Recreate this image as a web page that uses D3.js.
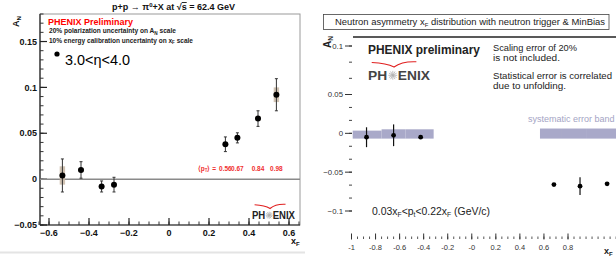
<!DOCTYPE html>
<html><head><meta charset="utf-8">
<script src="https://cdn.jsdelivr.net/npm/d3@7/dist/d3.min.js"></script>
<style>
html,body{margin:0;padding:0;background:#fff;}
svg{display:block;font-family:"Liberation Sans",Arial,sans-serif;}
</style></head>
<body>
<svg id="c" width="616" height="256"></svg>
<script>
// ---------- Left panel data (pi0 A_N vs xF) ----------
const leftX   = [-0.533, -0.44, -0.337, -0.275, 0.282, 0.342, 0.445, 0.537];
const leftY   = [0.004, 0.010, -0.008, -0.006, 0.038, 0.045, 0.066, 0.092];
const leftErr = [0.018, 0.009, 0.006, 0.008, 0.008, 0.0055, 0.0085, 0.0175];
const leftSys = [0.010, 0.002, 0.001, 0.001, 0.001, 0.001, 0.002, 0.008];
const leftXTicks = [-0.6, -0.4, -0.2, 0, 0.2, 0.4, 0.6];
const leftYTicks = [-0.05, 0, 0.05, 0.1, 0.15];
const ptLabels = ["0.56", "0.67", "0.84", "0.98"];

// ---------- Right panel data (neutron A_N vs xF) ----------
const rightX   = [-0.875, -0.65, -0.425, 0.683, 0.9, 1.125];
const rightY   = [-0.005, -0.0025, -0.005, -0.066, -0.068, -0.065];
const rightErr = [0.0128, 0.014, 0.0, 0.0, 0.0115, 0.0];
const bandX0   = [-0.99, -0.75, -0.55, 0.567, 0.75, 0.95];
const bandX1   = [-0.75, -0.55, -0.317, 0.75, 0.95, 1.2];
const bandLo   = [-0.0068, -0.0068, -0.0068, -0.0068, -0.0068, -0.0068];
const bandHi   = [0.0035, 0.0052, 0.0052, 0.0062, 0.0062, 0.0062];
const rightXTicks = [-1, -0.8, -0.6, -0.4, -0.2, 0, 0.2, 0.4, 0.6, 0.8];
const rightXLabels = ["-1", "-0.8", "-0.6", "-0.4", "-0.2", "-0", "0.2", "0.4", "0.6", "0.8"];
const rightYTicks = [-0.1, -0.05, 0, 0.05, 0.1];

const svg = d3.select("#c");
svg.append("rect").attr("width",616).attr("height",256).attr("fill","#fff");

// ================= LEFT PANEL =================
const xL = d3.scaleLinear().domain([-0.645, 0.655]).range([40, 300]);
const yL = d3.scaleLinear().domain([-0.05, 0.18]).range([225, 14]);
const L = svg.append("g");

// frame
L.append("rect").attr("x",40).attr("y",14).attr("width",260).attr("height",211)
  .attr("fill","none").attr("stroke","#9a9a9a").attr("stroke-width",1);
L.append("line").attr("x1",40).attr("x2",40).attr("y1",14).attr("y2",225).attr("stroke","#222").attr("stroke-width",1.2);
L.append("line").attr("x1",40).attr("x2",300).attr("y1",225).attr("y2",225).attr("stroke","#222").attr("stroke-width",1.2);

// y ticks
const yMinorL = d3.range(-0.05, 0.1801, 0.01);
L.selectAll(".ymn").data(yMinorL).join("line")
  .attr("x1",40).attr("x2",43.5).attr("y1",d=>yL(d)).attr("y2",d=>yL(d)).attr("stroke","#333");
L.selectAll(".ymj").data(leftYTicks).join("line")
  .attr("x1",40).attr("x2",47).attr("y1",d=>yL(d)).attr("y2",d=>yL(d)).attr("stroke","#222").attr("stroke-width",1.2);
L.selectAll(".ylb").data(leftYTicks).join("text")
  .attr("x",37).attr("y",d=>yL(d)+3.2).attr("text-anchor","end")
  .attr("font-size",9).attr("font-weight","bold").attr("fill","#111")
  .text(d=>d3.format("~g")(d));

// x ticks
const xMinorL = d3.range(-0.65, 0.6501, 0.05);
L.selectAll(".xmn").data(xMinorL).join("line")
  .attr("x1",d=>xL(d)).attr("x2",d=>xL(d)).attr("y1",225).attr("y2",221.5).attr("stroke","#333");
L.selectAll(".xmj").data(leftXTicks).join("line")
  .attr("x1",d=>xL(d)).attr("x2",d=>xL(d)).attr("y1",225).attr("y2",218).attr("stroke","#222").attr("stroke-width",1.2);
L.selectAll(".xlb").data(leftXTicks).join("text")
  .attr("x",d=>xL(d)).attr("y",235.5).attr("text-anchor","middle")
  .attr("font-size",9).attr("font-weight","bold").attr("fill","#111")
  .text(d=>d3.format("~g")(d));

// axis titles
L.append("text").attr("x",291).attr("y",244).attr("font-size",9).attr("font-weight","bold").attr("fill","#111")
  .html('x<tspan font-size="6" dy="2">F</tspan>');
L.append("text").attr("transform","translate(19,27) rotate(-90)").attr("font-size",9).attr("font-weight","bold").attr("fill","#111")
  .html('A<tspan font-size="6" dy="2">N</tspan>');

// title
L.append("text").attr("x",112).attr("y",10).attr("font-size",9).attr("font-weight","bold").attr("fill","#111")
  .attr("textLength",123).attr("lengthAdjust","spacingAndGlyphs")
  .html('p+p → π<tspan font-size="6" dy="-3">0</tspan><tspan dy="3">+X at √</tspan><tspan text-decoration="overline">s</tspan> = 62.4 GeV');

// zero line
L.append("line").attr("x1",40).attr("x2",300).attr("y1",yL(0)).attr("y2",yL(0)).attr("stroke","#8a8a8a").attr("stroke-width",1.5);

// annotations
L.append("text").attr("x",48).attr("y",24.5).attr("font-size",9.6).attr("font-weight","bold").attr("fill","#f00")
  .attr("textLength",85).attr("lengthAdjust","spacingAndGlyphs").text("PHENIX Preliminary");
L.append("text").attr("x",49).attr("y",33).attr("font-size",6.4).attr("font-weight","bold").attr("fill","#222")
  .attr("textLength",127).attr("lengthAdjust","spacingAndGlyphs")
  .html('20% polarization uncertainty on A<tspan font-size="4.5" dy="1.5">N</tspan><tspan dy="-1.5"> scale</tspan>');
L.append("text").attr("x",49).attr("y",42.5).attr("font-size",6.4).attr("font-weight","bold").attr("fill","#222")
  .attr("textLength",144).attr("lengthAdjust","spacingAndGlyphs")
  .html('10% energy calibration uncertainty on x<tspan font-size="4.5" dy="1.5">F</tspan><tspan dy="-1.5"> scale</tspan>');
L.append("circle").attr("cx",57).attr("cy",54).attr("r",2.6).attr("fill","#000");
L.append("text").attr("x",65).attr("y",65).attr("font-size",14).attr("fill","#000")
  .attr("textLength",65).attr("lengthAdjust","spacingAndGlyphs").text("3.0<η<4.0");

// sys boxes
L.selectAll(".sys").data(leftX).join("rect")
  .attr("x",d=>xL(d)-2.7).attr("width",5.4)
  .attr("y",(d,i)=>yL(leftY[i]+leftSys[i])).attr("height",(d,i)=>yL(leftY[i]-leftSys[i])-yL(leftY[i]+leftSys[i]))
  .attr("fill","#c9b9a6").attr("opacity",0.85);
// error bars
L.selectAll(".eb").data(leftX).join("line")
  .attr("x1",d=>xL(d)).attr("x2",d=>xL(d))
  .attr("y1",(d,i)=>yL(leftY[i]+leftErr[i])).attr("y2",(d,i)=>yL(leftY[i]-leftErr[i]))
  .attr("stroke","#333").attr("stroke-width",1);
[1,-1].forEach((s,k)=>{
  L.selectAll(".cap"+k).data(leftX).join("line")
    .attr("x1",d=>xL(d)-1.5).attr("x2",d=>xL(d)+1.5)
    .attr("y1",(d,i)=>yL(leftY[i]+s*leftErr[i])).attr("y2",(d,i)=>yL(leftY[i]+s*leftErr[i]))
    .attr("stroke","#333").attr("stroke-width",1);
});
L.selectAll(".pt").data(leftX).join("circle")
  .attr("cx",d=>xL(d)).attr("cy",(d,i)=>yL(leftY[i])).attr("r",3).attr("fill","#000");

// <pT> labels, each under its forward point
const posX = leftX.filter(v=>v>0);
L.append("text").attr("x",216).attr("y",170.5).attr("text-anchor","end").attr("font-size",6.5).attr("font-weight","bold").attr("fill","#f03030")
  .html('⟨p<tspan font-size="4.5" dy="1.5">T</tspan><tspan dy="-1.5">⟩ =</tspan>');
L.selectAll(".ptl").data(ptLabels).join("text")
  .attr("x",(d,i)=>xL(posX[i])).attr("y",170.5).attr("text-anchor","middle")
  .attr("font-size",6.5).attr("font-weight","bold").attr("fill","#f03030").text(d=>d);

// PHENIX logo
function logo(g, x, y, w, size, col){
  const t = g.append("text").attr("x",x).attr("y",y).attr("font-size",size).attr("font-weight","bold").attr("fill",col)
    .attr("textLength",w).attr("lengthAdjust","spacingAndGlyphs");
  t.append("tspan").text("PH");
  t.append("tspan").attr("fill","#fff").text("O");
  t.append("tspan").text("ENIX");
  const cx = x + w*0.40, cy = y - size*0.36;
  for(let k=0;k<6;k++){
    const a = k*Math.PI/6;
    g.append("line").attr("x1",cx-Math.cos(a)*size*0.34).attr("x2",cx+Math.cos(a)*size*0.34)
      .attr("y1",cy-Math.sin(a)*size*0.34).attr("y2",cy+Math.sin(a)*size*0.34)
      .attr("stroke","#b0b0b0").attr("stroke-width",0.8);
  }
  g.append("path").attr("d",`M${x+w*0.06},${y-size*1.35} Q${x+w*0.3},${y-size*1.3} ${x+w*0.42},${y-size*1.0} Q${x+w*0.55},${y-size*1.45} ${x+w*0.78},${y-size*1.4}`)
    .attr("fill","none").attr("stroke","#e02020").attr("stroke-width",1.1);
}
logo(L, 252, 219, 43, 10.5, "#222");

// bottom separator
svg.append("line").attr("x1",0).attr("x2",305).attr("y1",252.5).attr("y2",252.5).attr("stroke","#e4e4e4").attr("stroke-width",2);

// ================= RIGHT PANEL =================
const xR = d3.scaleLinear().domain([-1, 0.8]).range([351.5, 568]);
const yR = d3.scaleLinear().domain([-0.1, 0.05, 0.1]).range([211, 94.5, 46]);
const R = svg.append("g");

// title box
R.append("rect").attr("x",323.5).attr("y",14.5).attr("width",285.5).attr("height",15)
  .attr("fill","#fff").attr("stroke","#444").attr("stroke-width",0.8);
R.append("text").attr("x",335).attr("y",25).attr("font-size",8.8).attr("fill","#222")
  .attr("textLength",270).attr("lengthAdjust","spacingAndGlyphs")
  .html('Neutron asymmetry x<tspan font-size="5.5" dy="1.5">F</tspan><tspan dy="-1.5"> distribution with neutron trigger &amp; MinBias</tspan>');
// top frame line
R.append("line").attr("x1",353).attr("x2",616).attr("y1",37).attr("y2",37).attr("stroke","#222").attr("stroke-width",1.3);

// bands
R.selectAll(".band").data(bandX0).join("rect")
  .attr("x",d=>xR(d)).attr("width",(d,i)=>xR(bandX1[i])-xR(d))
  .attr("y",(d,i)=>yR(bandHi[i])).attr("height",(d,i)=>yR(bandLo[i])-yR(bandHi[i]))
  .attr("fill","#a9a9c9");
R.append("text").attr("x",528).attr("y",121.5).attr("font-size",9).attr("fill","#a4a4c4").text("systematic error band");

// y ticks
const yMinorR = d3.range(-0.1, 0.1001, 0.05/3);
R.selectAll(".ymn").data(yMinorR).join("line")
  .attr("x1",349).attr("x2",352).attr("y1",d=>yR(d)).attr("y2",d=>yR(d)).attr("stroke","#444");
R.selectAll(".ymj").data(rightYTicks).join("line")
  .attr("x1",345).attr("x2",352).attr("y1",d=>yR(d)).attr("y2",d=>yR(d)).attr("stroke","#333");
R.selectAll(".ylb").data(rightYTicks).join("text")
  .attr("x",343).attr("y",d=>yR(d)+2.8).attr("text-anchor","end").attr("font-size",7.8).attr("fill","#333")
  .text(d=>d3.format("~g")(d));
R.append("text").attr("transform","translate(331,48) rotate(-90)").attr("font-size",10).attr("font-weight","bold").attr("fill","#222")
  .html('A<tspan font-size="6.5" dy="2">N</tspan>');

// x ticks
const xMinorR = d3.range(-1, 1.201, 0.05);
R.selectAll(".xmn").data(xMinorR).join("line")
  .attr("x1",d=>xR(d)).attr("x2",d=>xR(d)).attr("y1",236.5).attr("y2",239).attr("stroke","#555");
R.selectAll(".xmj").data(rightXTicks).join("line")
  .attr("x1",d=>xR(d)).attr("x2",d=>xR(d)).attr("y1",233.5).attr("y2",239.5).attr("stroke","#333");
R.selectAll(".xlb").data(rightXTicks).join("text")
  .attr("x",d=>xR(d)).attr("y",250).attr("text-anchor","middle").attr("font-size",7.5).attr("fill","#333")
  .text((d,i)=>rightXLabels[i]);
R.append("text").attr("x",604).attr("y",254).attr("font-size",9).attr("font-weight","bold").attr("fill","#222")
  .html('x<tspan font-size="6" dy="2">F</tspan>');

// error bars & points
R.selectAll(".eb").data(rightX).join("line")
  .attr("x1",d=>xR(d)).attr("x2",d=>xR(d))
  .attr("y1",(d,i)=>yR(rightY[i]+rightErr[i])).attr("y2",(d,i)=>yR(rightY[i]-rightErr[i]))
  .attr("stroke","#111").attr("stroke-width",1.2);
R.selectAll(".pt").data(rightX).join("circle")
  .attr("cx",d=>xR(d)).attr("cy",(d,i)=>yR(rightY[i])).attr("r",2.4).attr("fill","#000");

// text annotations
R.append("text").attr("x",368).attr("y",54).attr("font-size",12).attr("font-weight","bold").attr("fill","#222")
  .attr("textLength",112).attr("lengthAdjust","spacingAndGlyphs").text("PHENIX preliminary");
R.append("text").attr("x",493).attr("y",51).attr("font-size",9.2).attr("fill","#222").attr("textLength",84).attr("lengthAdjust","spacingAndGlyphs").text("Scaling error of 20%");
R.append("text").attr("x",493).attr("y",60.5).attr("font-size",9.2).attr("fill","#222").attr("textLength",67).attr("lengthAdjust","spacingAndGlyphs").text("is not included.");
R.append("text").attr("x",493).attr("y",79).attr("font-size",9.2).attr("fill","#222").attr("textLength",119).attr("lengthAdjust","spacingAndGlyphs").text("Statistical error is correlated");
R.append("text").attr("x",493).attr("y",88.5).attr("font-size",9.2).attr("fill","#222").attr("textLength",73).attr("lengthAdjust","spacingAndGlyphs").text("due to unfolding.");
R.append("text").attr("x",372).attr("y",215).attr("font-size",10).attr("fill","#222")
  .attr("textLength",118).attr("lengthAdjust","spacingAndGlyphs")
  .html('0.03x<tspan font-size="6.5" dy="2">F</tspan><tspan dy="-2">&lt;p</tspan><tspan font-size="6.5" dy="2">t</tspan><tspan dy="-2">&lt;0.22x</tspan><tspan font-size="6.5" dy="2">F</tspan><tspan dy="-2"> (GeV/c)</tspan>');
logo(R, 368, 80, 62, 13, "#444");
</script>
</body></html>
